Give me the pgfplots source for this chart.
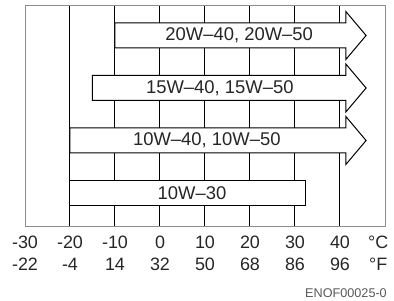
\documentclass[border=0pt]{standalone}
\usepackage{pgfplots}
\pgfplotsset{compat=1.18}
\usepackage{fontspec}
\setmainfont{Liberation Sans}
\definecolor{framegray}{HTML}{8C8C8C}
\definecolor{txt}{HTML}{262626}
\begin{document}
\begin{tikzpicture}
\useasboundingbox (-25bp,-75bp) rectangle (369bp,226bp);
\begin{axis}[at={(0,0)}, anchor=south west, scale only axis,
 width=360bp, height=221bp,
 xmin=-30, xmax=50, ymin=0, ymax=221,
 axis line style={draw=framegray, line width=0.8bp},
 ytick=\empty,
 xtick={-20,-10,0,10,20,30,40},
 xticklabels={{-20\\-4},{-10\\14},{0\\32},{10\\50},{20\\68},{30\\86},{40\\96}},
 extra x ticks={-30,48.5},
 extra x tick labels={{-30\\-22},{°C\\°F}},
 extra x tick style={grid=none},
 major tick length=0pt,
 xmajorgrids, grid style={black, line width=1bp},
 xticklabel style={align=center, anchor=north, inner sep=0pt, yshift=-10bp,
   font=\fontsize{18}{21.5}\selectfont, text=txt},
 clip=false,
 ]
% arrows: body from start to 41.3, head tip at 45.8
\addplot[fill=white, draw=black, line width=1bp] coordinates
 {(-10,178) (41.3,178) (41.3,166.5) (45.8,190.5) (41.3,214.5) (41.3,203) (-10,203)} -- cycle;
\addplot[fill=white, draw=black, line width=1bp] coordinates
 {(-15,125.5) (41.3,125.5) (41.3,114) (45.8,138) (41.3,162) (41.3,150.5) (-15,150.5)} -- cycle;
\addplot[fill=white, draw=black, line width=1bp] coordinates
 {(-20,73) (41.3,73) (41.3,61.5) (45.8,85.5) (41.3,109.5) (41.3,98) (-20,98)} -- cycle;
\addplot[fill=white, draw=black, line width=1bp] coordinates
 {(-20,20.5) (32.4,20.5) (32.4,45.5) (-20,45.5)} -- cycle;
\begin{scope}[every node/.style={font=\fontsize{18.5}{21}\selectfont, text=txt}]
\node at (axis cs:17.6,190.5) {20W\textendash 40, 20W\textendash 50};
\node at (axis cs:13.3,138) {15W\textendash 40, 15W\textendash 50};
\node at (axis cs:10.4,85.5) {10W\textendash 40, 10W\textendash 50};
\node at (axis cs:7.1,33) {10W\textendash 30};
\end{scope}
\node[anchor=east, inner sep=0pt, font=\fontsize{12.7}{14}\selectfont, text=black!65]
 at (rel axis cs:1,0) [xshift=2bp, yshift=-67bp] {ENOF00025-0};
\end{axis}
\end{tikzpicture}
\end{document}
